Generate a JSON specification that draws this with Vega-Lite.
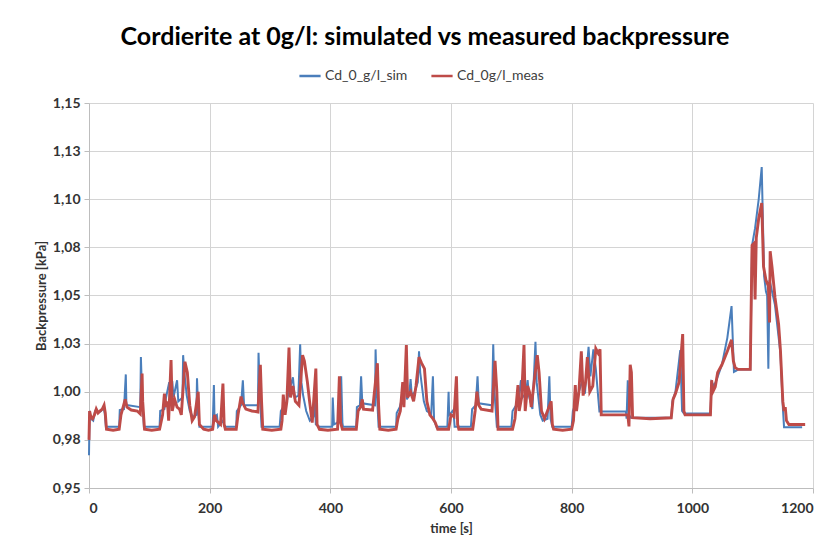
{
  "$schema": "https://vega.github.io/schema/vega-lite/v6.json",
  "width": 724,
  "height": 385,
  "autosize": {"type": "none"},
  "padding": {"left": 89, "top": 103, "right": 16, "bottom": 60},
  "background": "white",
  "title": {
    "text": "Cordierite at 0g/l: simulated vs measured backpressure",
    "font": "Lato",
    "fontSize": 25,
    "fontWeight": "bold",
    "color": "#000000",
    "anchor": "middle",
    "offset": 14,
    "dx": -26
  },
  "config": {
    "view": {"stroke": null},
    "axis": {
      "grid": true,
      "gridColor": "#d4d4d4",
      "domainColor": "#bdbdbd",
      "tickColor": "#bdbdbd",
      "tickSize": 5,
      "labelFont": "Lato",
      "labelFontSize": 14,
      "labelFontWeight": "bold",
      "labelColor": "#333333",
      "titleFont": "Lato",
      "titleFontSize": 13,
      "titleFontWeight": "bold",
      "titleColor": "#333333"
    },
    "legend": {
      "labelFont": "Lato",
      "labelFontSize": 14,
      "labelColor": "#404040"
    }
  },
  "datasets": {
    "sim": [
      {"t":0,"v":0.967},{"t":1,"v":0.990},{"t":3,"v":0.986},{"t":7,"v":0.985},{"t":10,"v":0.990},{"t":12,"v":0.991},{"t":15,"v":0.989},{"t":20,"v":0.990},{"t":24,"v":0.992},{"t":26,"v":0.989},{"t":28,"v":0.9818},{"t":50,"v":0.9818},{"t":51,"v":0.9905},{"t":58,"v":0.991},{"t":61,"v":1.009},{"t":62,"v":0.993},{"t":65,"v":0.993},{"t":85,"v":0.992},{"t":86,"v":1.018},{"t":88,"v":0.998},{"t":91,"v":0.9818},{"t":117,"v":0.9818},{"t":118,"v":0.990},{"t":125,"v":0.991},{"t":127,"v":0.996},{"t":133,"v":1.005},{"t":135,"v":0.996},{"t":138,"v":1.0055},{"t":140,"v":0.997},{"t":146,"v":1.006},{"t":148,"v":0.995},{"t":155,"v":0.997},{"t":156,"v":1.019},{"t":158,"v":1.010},{"t":162,"v":0.998},{"t":167,"v":0.990},{"t":172,"v":0.987},{"t":178,"v":0.988},{"t":179,"v":1.007},{"t":181,"v":0.990},{"t":183,"v":0.9818},{"t":205,"v":0.9818},{"t":207,"v":1.0035},{"t":208,"v":0.987},{"t":212,"v":0.988},{"t":214,"v":0.9818},{"t":222,"v":0.985},{"t":225,"v":0.9818},{"t":244,"v":0.9818},{"t":245,"v":0.990},{"t":252,"v":0.993},{"t":255,"v":1.006},{"t":257,"v":0.993},{"t":280,"v":0.993},{"t":281,"v":1.0203},{"t":283,"v":1.000},{"t":286,"v":0.9818},{"t":316,"v":0.9818},{"t":318,"v":0.990},{"t":322,"v":0.992},{"t":328,"v":0.995},{"t":331,"v":1.000},{"t":335,"v":1.004},{"t":338,"v":1.0075},{"t":341,"v":0.997},{"t":347,"v":0.998},{"t":350,"v":1.0247},{"t":352,"v":1.005},{"t":355,"v":0.998},{"t":360,"v":0.990},{"t":366,"v":0.985},{"t":372,"v":0.987},{"t":374,"v":0.997},{"t":376,"v":0.983},{"t":382,"v":0.9818},{"t":403,"v":0.9818},{"t":404,"v":0.997},{"t":406,"v":0.983},{"t":412,"v":0.984},{"t":415,"v":0.990},{"t":418,"v":1.008},{"t":420,"v":0.984},{"t":421,"v":0.9818},{"t":443,"v":0.9818},{"t":444,"v":0.992},{"t":449,"v":0.993},{"t":451,"v":1.008},{"t":453,"v":0.994},{"t":474,"v":0.993},{"t":475,"v":1.022},{"t":477,"v":1.000},{"t":480,"v":0.9818},{"t":509,"v":0.9818},{"t":510,"v":0.989},{"t":515,"v":0.992},{"t":520,"v":0.998},{"t":525,"v":1.0045},{"t":527,"v":0.996},{"t":531,"v":0.999},{"t":533,"v":1.0066},{"t":535,"v":0.998},{"t":540,"v":1.000},{"t":545,"v":1.005},{"t":547,"v":1.021},{"t":549,"v":1.010},{"t":555,"v":0.995},{"t":560,"v":0.990},{"t":565,"v":0.989},{"t":567,"v":0.987},{"t":570,"v":1.008},{"t":572,"v":0.985},{"t":576,"v":0.9818},{"t":594,"v":0.9818},{"t":596,"v":1.000},{"t":597,"v":0.988},{"t":600,"v":0.989},{"t":604,"v":0.9905},{"t":606,"v":0.9818},{"t":633,"v":0.9818},{"t":635,"v":0.991},{"t":641,"v":0.993},{"t":644,"v":1.008},{"t":646,"v":0.994},{"t":668,"v":0.993},{"t":670,"v":1.0247},{"t":672,"v":1.000},{"t":676,"v":0.9818},{"t":700,"v":0.9818},{"t":702,"v":0.990},{"t":708,"v":0.993},{"t":712,"v":0.996},{"t":716,"v":1.006},{"t":718,"v":0.997},{"t":724,"v":0.999},{"t":727,"v":1.006},{"t":729,"v":0.998},{"t":735,"v":0.991},{"t":740,"v":1.026},{"t":742,"v":1.005},{"t":748,"v":0.988},{"t":752,"v":0.985},{"t":760,"v":0.986},{"t":763,"v":1.008},{"t":765,"v":0.986},{"t":768,"v":0.9818},{"t":800,"v":0.9818},{"t":802,"v":0.990},{"t":808,"v":0.995},{"t":812,"v":1.000},{"t":818,"v":1.006},{"t":822,"v":0.999},{"t":828,"v":1.0234},{"t":831,"v":1.008},{"t":836,"v":1.022},{"t":840,"v":1.012},{"t":846,"v":0.9897},{"t":890,"v":0.9897},{"t":891,"v":0.986},{"t":893,"v":1.006},{"t":895,"v":0.988},{"t":898,"v":0.9865},{"t":965,"v":0.9865},{"t":967,"v":0.995},{"t":972,"v":1.000},{"t":980,"v":1.0216},{"t":983,"v":0.990},{"t":986,"v":0.9887},{"t":1030,"v":0.9887},{"t":1032,"v":1.005},{"t":1036,"v":1.003},{"t":1040,"v":1.006},{"t":1049,"v":1.014},{"t":1058,"v":1.028},{"t":1065,"v":1.0445},{"t":1069,"v":1.0103},{"t":1073,"v":1.011},{"t":1076,"v":1.0116},{"t":1096,"v":1.0116},{"t":1099,"v":1.076},{"t":1104,"v":1.085},{"t":1110,"v":1.100},{"t":1115,"v":1.1167},{"t":1119,"v":1.060},{"t":1122,"v":1.052},{"t":1124,"v":1.050},{"t":1126,"v":1.012},{"t":1128,"v":1.058},{"t":1137,"v":1.045},{"t":1146,"v":1.020},{"t":1150,"v":0.992},{"t":1152,"v":0.9816},{"t":1182,"v":0.9816}
    ],
    "meas": [
      {"t":0,"v":0.975},{"t":1,"v":0.990},{"t":3,"v":0.987},{"t":6,"v":0.986},{"t":9,"v":0.988},{"t":12,"v":0.991},{"t":15,"v":0.989},{"t":18,"v":0.990},{"t":22,"v":0.991},{"t":25,"v":0.993},{"t":27,"v":0.989},{"t":29,"v":0.9805},{"t":40,"v":0.9800},{"t":50,"v":0.9805},{"t":53,"v":0.988},{"t":57,"v":0.9925},{"t":60,"v":0.996},{"t":63,"v":0.992},{"t":70,"v":0.9905},{"t":80,"v":0.990},{"t":85,"v":0.9885},{"t":88,"v":1.0095},{"t":89,"v":0.995},{"t":92,"v":0.9805},{"t":104,"v":0.9800},{"t":117,"v":0.9805},{"t":122,"v":0.988},{"t":125,"v":0.999},{"t":128,"v":0.992},{"t":130,"v":0.995},{"t":132,"v":0.985},{"t":136,"v":1.0165},{"t":138,"v":0.990},{"t":142,"v":0.996},{"t":146,"v":0.992},{"t":150,"v":0.991},{"t":153,"v":0.988},{"t":159,"v":1.0156},{"t":163,"v":1.010},{"t":167,"v":0.993},{"t":171,"v":0.985},{"t":175,"v":0.987},{"t":181,"v":1.000},{"t":183,"v":0.983},{"t":190,"v":0.9805},{"t":198,"v":0.9800},{"t":205,"v":0.9805},{"t":208,"v":0.988},{"t":211,"v":0.985},{"t":218,"v":0.983},{"t":222,"v":1.0043},{"t":224,"v":0.983},{"t":226,"v":0.9805},{"t":244,"v":0.9805},{"t":247,"v":0.988},{"t":252,"v":0.9975},{"t":255,"v":0.994},{"t":260,"v":0.991},{"t":270,"v":0.990},{"t":280,"v":0.9895},{"t":284,"v":1.014},{"t":286,"v":0.995},{"t":288,"v":0.9805},{"t":303,"v":0.9800},{"t":318,"v":0.9805},{"t":320,"v":0.985},{"t":322,"v":0.9985},{"t":325,"v":0.988},{"t":328,"v":0.995},{"t":331.5,"v":1.0229},{"t":334,"v":0.997},{"t":338,"v":1.003},{"t":342,"v":0.995},{"t":348,"v":0.993},{"t":354,"v":1.019},{"t":357,"v":1.016},{"t":362,"v":1.005},{"t":366,"v":0.994},{"t":370,"v":0.984},{"t":376,"v":1.012},{"t":378,"v":0.983},{"t":382,"v":0.9805},{"t":396,"v":0.9800},{"t":412,"v":0.9805},{"t":415,"v":1.008},{"t":417,"v":0.984},{"t":420,"v":0.9805},{"t":443,"v":0.9805},{"t":446,"v":0.990},{"t":450,"v":0.992},{"t":453,"v":0.996},{"t":455,"v":0.991},{"t":470,"v":0.9905},{"t":478,"v":1.0148},{"t":480,"v":0.993},{"t":482,"v":0.9805},{"t":496,"v":0.9800},{"t":509,"v":0.9805},{"t":512,"v":0.986},{"t":516,"v":0.990},{"t":520,"v":1.005},{"t":522,"v":0.992},{"t":526,"v":1.0243},{"t":528,"v":0.997},{"t":533,"v":1.000},{"t":538,"v":0.995},{"t":542,"v":1.003},{"t":547,"v":1.018},{"t":551,"v":1.015},{"t":556,"v":1.012},{"t":560,"v":0.995},{"t":565,"v":0.988},{"t":570,"v":0.986},{"t":574,"v":0.984},{"t":578,"v":0.9805},{"t":596,"v":0.9805},{"t":598,"v":0.984},{"t":600,"v":0.988},{"t":605,"v":0.987},{"t":609,"v":1.008},{"t":611,"v":0.983},{"t":613,"v":0.9805},{"t":636,"v":0.9805},{"t":640,"v":0.990},{"t":643,"v":1.000},{"t":646,"v":0.993},{"t":650,"v":0.991},{"t":668,"v":0.990},{"t":673,"v":1.016},{"t":676,"v":1.000},{"t":678,"v":0.9805},{"t":702,"v":0.9805},{"t":706,"v":0.986},{"t":711,"v":1.0035},{"t":713,"v":0.990},{"t":717,"v":0.997},{"t":721,"v":1.0243},{"t":723,"v":0.990},{"t":727,"v":1.003},{"t":730,"v":1.000},{"t":733,"v":0.992},{"t":743,"v":1.019},{"t":746,"v":1.010},{"t":750,"v":0.990},{"t":755,"v":0.986},{"t":766,"v":0.995},{"t":768,"v":0.983},{"t":770,"v":0.9805},{"t":785,"v":0.9800},{"t":800,"v":0.9805},{"t":803,"v":0.985},{"t":806,"v":1.0035},{"t":808,"v":0.990},{"t":812,"v":1.000},{"t":816,"v":1.021},{"t":819,"v":0.998},{"t":823,"v":1.005},{"t":826,"v":1.018},{"t":830,"v":1.000},{"t":835,"v":1.003},{"t":840,"v":1.0224},{"t":844,"v":1.020},{"t":847,"v":1.022},{"t":849,"v":0.988},{"t":893,"v":0.988},{"t":895,"v":0.982},{"t":897,"v":1.014},{"t":899,"v":1.010},{"t":901,"v":0.9865},{"t":930,"v":0.9860},{"t":965,"v":0.9865},{"t":968,"v":0.996},{"t":972,"v":0.999},{"t":978,"v":1.005},{"t":984,"v":1.030},{"t":986,"v":0.990},{"t":988,"v":0.988},{"t":1030,"v":0.988},{"t":1032,"v":1.006},{"t":1034,"v":1.000},{"t":1038,"v":1.0026},{"t":1042,"v":1.010},{"t":1049,"v":1.014},{"t":1058,"v":1.021},{"t":1065,"v":1.027},{"t":1068,"v":1.016},{"t":1071,"v":1.0125},{"t":1076,"v":1.0116},{"t":1096,"v":1.0116},{"t":1099,"v":1.076},{"t":1102,"v":1.077},{"t":1104,"v":1.048},{"t":1106,"v":1.080},{"t":1110,"v":1.090},{"t":1115,"v":1.098},{"t":1118,"v":1.065},{"t":1122,"v":1.058},{"t":1126,"v":1.055},{"t":1128,"v":1.036},{"t":1129,"v":1.073},{"t":1132,"v":1.065},{"t":1137,"v":1.049},{"t":1143,"v":1.035},{"t":1146,"v":1.0216},{"t":1150,"v":0.995},{"t":1152,"v":0.990},{"t":1154,"v":0.992},{"t":1156,"v":0.985},{"t":1160,"v":0.983},{"t":1187,"v":0.983}
    ]
  },
  "encoding": {
    "x": {
      "field": "t",
      "type": "quantitative",
      "scale": {"domain": [0, 1200], "nice": false},
      "axis": {
        "title": "time [s]",
        "values": [0, 200, 400, 600, 800, 1000, 1200],
        "format": "d",
        "labelPadding": 8,
        "titlePadding": 7
      }
    },
    "y": {
      "field": "v",
      "type": "quantitative",
      "scale": {"domain": [0.95, 1.15], "nice": false, "zero": false},
      "axis": {
        "title": "Backpressure [kPa]",
        "values": [0.95, 0.975, 1.0, 1.025, 1.05, 1.075, 1.1, 1.125, 1.15],
        "labelExpr": "replace(format(datum.value + 0.00001, '.2f'), '.', ',')",
        "labelPadding": 4,
        "titlePadding": 4
      }
    }
  },
  "layer": [
    {
      "data": {"name": "sim"},
      "mark": {"type": "line", "strokeWidth": 2, "interpolate": "linear"},
      "encoding": {
        "color": {
          "datum": "Cd_0_g/l_sim",
          "type": "nominal",
          "scale": {"domain": ["Cd_0_g/l_sim", "Cd_0g/l_meas"], "range": ["#4a7ebb", "#be4b48"]},
          "legend": {
            "title": null,
            "orient": "none",
            "legendX": 209,
            "legendY": -39,
            "direction": "horizontal",
            "symbolType": "stroke",
            "symbolSize": 450,
            "symbolStrokeWidth": 2.5,
            "columnPadding": 18,
            "labelOffset": 3
          }
        }
      }
    },
    {
      "data": {"name": "meas"},
      "mark": {"type": "line", "strokeWidth": 2.9, "interpolate": "linear"},
      "encoding": {
        "color": {
          "datum": "Cd_0g/l_meas",
          "type": "nominal",
          "scale": {"domain": ["Cd_0_g/l_sim", "Cd_0g/l_meas"], "range": ["#4a7ebb", "#be4b48"]}
        }
      }
    }
  ]
}
